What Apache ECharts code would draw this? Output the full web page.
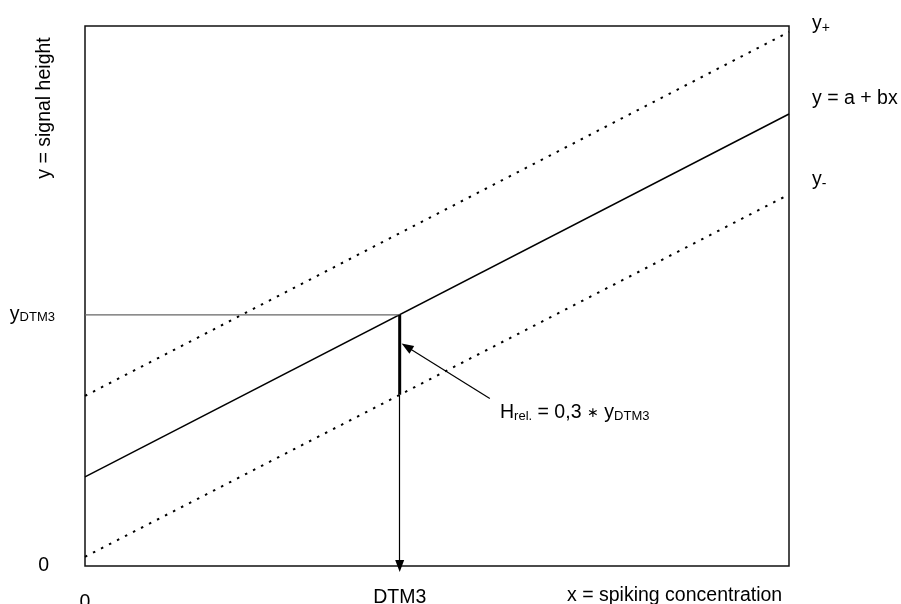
<!DOCTYPE html>
<html>
<head>
<meta charset="utf-8">
<script src="https://cdn.jsdelivr.net/npm/echarts@6/dist/echarts.min.js"></script>
<style>
html,body{margin:0;padding:0;background:#fff;}
#c{width:901px;height:604px;}
</style>
</head>
<body>
<div id="c"></div>
<script>
// ---- data (axis units 0..100) ----
const xEnds = [0, 100];
const fitLine = [16.5, 83.7];     // y = a + bx
const upperLine = [31.5, 98.9];   // y+
const lowerLine = [1.7, 68.8];    // y-
const xDTM3 = 44.7;
const yDTM3 = 46.5;
const yLowerAtDTM3 = 31.7;
const xTickValues = [0, 44.7];
const xTickLabels = ['0', 'DTM3'];
const yTickValues = [0, 46.5];
const yTickLabels = ['0', 'yDTM3'];
const annotArrowFrom = [57.5, 31.0];
const annotArrowTo = [45.7, 40.6];

const FONT = '"Liberation Sans", Arial, sans-serif';
const FS = 19.5;

function pairs(xs, ys) { return xs.map((x, i) => [x, ys[i]]); }

const chart = echarts.init(document.getElementById('c'), null, {renderer: 'canvas'});
chart.setOption({
  animation: false,
  backgroundColor: '#fff',
  textStyle: {fontFamily: FONT, color: '#000'},
  grid: {left: 85, right: 112, top: 26, bottom: 38, containLabel: false, outerBoundsMode: 'none',
    show: true, borderColor: '#111', borderWidth: 1.5, backgroundColor: 'transparent'},
  xAxis: {
    type: 'value', min: 0, max: 100,
    axisLine: {show: false}, axisTick: {show: false}, splitLine: {show: false},
    axisLabel: {
      customValues: xTickValues,
      margin: 22,
      fontSize: FS, fontFamily: FONT, color: '#000',
      formatter: v => {
        const i = xTickValues.indexOf(v);
        if (i < 0) return '';
        return xTickLabels[i] === '0' ? '{zero|0}' : '{m|' + xTickLabels[i] + '}';
      },
      rich: {
        zero: {fontSize: FS, fontFamily: FONT, padding: [5, 0, 0, 0]},
        m: {fontSize: FS, fontFamily: FONT}
      }
    }
  },
  yAxis: {
    type: 'value', min: 0, max: 100,
    axisLine: {show: false}, axisTick: {show: false}, splitLine: {show: false},
    axisLabel: {
      customValues: yTickValues,
      margin: 30,
      fontSize: FS, fontFamily: FONT, color: '#000',
      formatter: v => {
        const i = yTickValues.indexOf(v);
        if (i < 0) return '';
        const t = yTickLabels[i];
        if (t === '0') return '{zero|0}';
        return '{m|y}{s|' + t.slice(1) + '}';
      },
      rich: {
        zero: {fontSize: FS, fontFamily: FONT, padding: [0, 6, 0, 0]},
        m: {fontSize: FS, fontFamily: FONT},
        s: {fontSize: 13, fontFamily: FONT, padding: [6, 0, 0, 0]}
      }
    }
  },
  series: [
    {
      type: 'line', symbol: 'none', data: pairs(xEnds, upperLine),
      lineStyle: {color: '#000', width: 2, type: [2.5, 6.5]}
    },
    {
      type: 'line', symbol: 'none', data: pairs(xEnds, lowerLine),
      lineStyle: {color: '#000', width: 2, type: [2.5, 6.5]}
    },
    {
      type: 'line', symbol: 'none', data: pairs(xEnds, fitLine),
      lineStyle: {color: '#000', width: 1.5}
    },
    {
      type: 'line', symbol: 'none', data: [[0, yDTM3], [xDTM3, yDTM3]],
      lineStyle: {color: '#666', width: 1.2},
      markLine: {
        silent: true, animation: false,
        symbol: ['none', 'triangle'], symbolSize: [9, 12],
        label: {show: false},
        lineStyle: {color: '#000', width: 1.2, type: 'solid'},
        data: [
          [{coord: [xDTM3, yLowerAtDTM3]}, {coord: [xDTM3, 0]}],
          [{coord: annotArrowFrom}, {coord: annotArrowTo}]
        ]
      }
    },
    {
      type: 'line', symbol: 'none', data: [[xDTM3, yDTM3], [xDTM3, yLowerAtDTM3]],
      lineStyle: {color: '#000', width: 3}
    }
  ],
  graphic: [
    {type: 'text', x: 45, y: 108, rotation: Math.PI / 2,
      style: {text: 'y = signal height', font: FS + 'px ' + FONT, fill: '#000', align: 'center', verticalAlign: 'middle'}},
    {type: 'text', x: 567, y: 596,
      style: {text: 'x = spiking concentration', font: FS + 'px ' + FONT, fill: '#000', align: 'left', verticalAlign: 'middle'}},
    {type: 'text', x: 812, y: 24,
      style: {text: '{m|y}{s|+}', verticalAlign: 'middle', fill: '#000',
        rich: {m: {fontSize: FS, fontFamily: FONT}, s: {fontSize: 14, fontFamily: FONT, padding: [8, 0, 0, 0]}}}},
    {type: 'text', x: 812, y: 99,
      style: {text: 'y = a + bx', font: FS + 'px ' + FONT, fill: '#000', verticalAlign: 'middle'}},
    {type: 'text', x: 812, y: 180,
      style: {text: '{m|y}{s|-}', verticalAlign: 'middle', fill: '#000',
        rich: {m: {fontSize: FS, fontFamily: FONT}, s: {fontSize: 14, fontFamily: FONT, padding: [8, 0, 0, 0]}}}},
    {type: 'text', x: 500, y: 413,
      style: {text: '{m|H}{s|rel.}{m| = 0,3 }{a|∗}{m| y}{s|DTM3}', verticalAlign: 'middle', fill: '#000',
        rich: {
          m: {fontSize: FS, fontFamily: FONT},
          a: {fontSize: 14, fontFamily: FONT},
          s: {fontSize: 13, fontFamily: FONT, padding: [7, 0, 0, 0]}
        }}}
  ]
});
</script>
</body>
</html>
